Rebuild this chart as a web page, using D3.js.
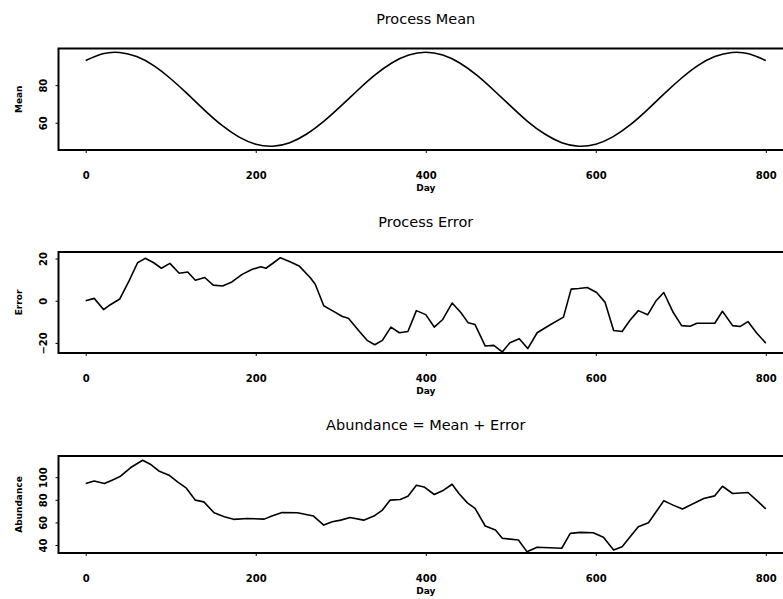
<!DOCTYPE html>
<html>
<head>
<meta charset="utf-8">
<script src="https://cdn.jsdelivr.net/npm/d3@7"></script>
<style>
  body { margin: 0; overflow: hidden; background: #fff; }
  text { font-family: "DejaVu Sans", Arial, sans-serif; }
</style>
</head>
<body>
<script>
// Process mean, read every 20 days
var meanDay = [0, 20, 40, 60, 80, 100, 120, 140, 160, 180, 200, 220, 240, 260, 280, 300, 320, 340, 360, 380,
  400, 420, 440, 460, 480, 500, 520, 540, 560, 580, 600, 620, 640, 660, 680, 700, 720, 740, 760, 780, 800];
var meanValue = [93.1, 96.7, 97.4, 95.2, 90.4, 83.4, 75.2, 66.6, 58.7, 52.5, 48.6, 47.5, 49.4, 54.0, 60.7, 68.8, 77.3, 85.3, 91.8, 96.0,
  97.5, 96.0, 91.8, 85.3, 77.3, 68.8, 60.6, 54.0, 49.4, 47.5, 48.6, 52.5, 58.7, 66.6, 75.2, 83.4, 90.4, 95.2, 97.4, 96.7, 93.1];

// Process error
var errorDay = [0, 10, 21, 29, 40, 51, 61, 70, 80, 89, 99, 110, 120, 129, 140, 150, 161, 172, 184, 196,
  206, 212, 221, 229, 241, 251, 264, 270, 280, 290, 302, 309, 321, 331, 340, 349, 359, 369, 379, 389,
  400, 410, 420, 431, 441, 450, 458, 470, 480, 490, 499, 510, 520, 531, 546, 562, 571, 580, 590, 601,
  611, 621, 631, 640, 650, 661, 671, 680, 691, 701, 711, 719, 740, 749, 761, 770, 779, 789, 800];
var errorValue = [0, 1.1, -4.2, -1.9, 0.8, 9.4, 18, 20.1, 18, 15.4, 17.7, 13, 13.6, 9.7, 11, 7.4, 7, 8.9, 12.5, 14.9,
  16.1, 15.4, 18, 20.4, 18.4, 16.5, 11, 7.8, -2.4, -4.7, -7.5, -8.3, -14.1, -18.8, -20.9, -18.8, -12.5, -15.2, -14.6, -4.7,
  -6.6, -12.5, -8.9, -1.1, -5.5, -10.5, -11.3, -21.5, -21.2, -24.3, -19.9, -18, -22.7, -15.2, -11.5, -7.8, 5.5, 5.8, 6.3, 3.9,
  -0.8, -14.1, -14.6, -9.4, -4.7, -6.7, 0, 3.9, -5.5, -11.8, -12.1, -10.7, -10.7, -5, -11.8, -12.2, -9.9, -15.2, -20.1];

// Abundance
var abundanceDay = [0, 10, 22, 31, 41, 53, 67, 76, 86, 98, 108, 118, 129, 139, 151, 163, 174, 190, 210, 219,
  231, 249, 268, 280, 290, 300, 311, 327, 339, 349, 358, 370, 379, 389, 398, 410, 421, 431, 439, 449,
  458, 470, 482, 490, 509, 519, 531, 560, 570, 582, 597, 609, 621, 631, 640, 650, 662, 671, 680, 691,
  702, 715, 727, 740, 749, 761, 779, 789, 800];
var abundanceValue = [94.4, 96.7, 94.4, 97.4, 100.9, 108.6, 115, 111.5, 105.6, 101.8, 95.9, 90.6, 79.7, 78.2, 68.5, 65, 62.7, 63.5, 62.9, 65.6,
  68.8, 68.5, 65.6, 57.6, 60.5, 62, 64.4, 62, 65.6, 70.9, 79.7, 80.3, 83.2, 92.9, 91.4, 84.7, 88.5, 93.8, 85.6, 77.3,
  72.4, 56.8, 53.2, 45.9, 44.4, 34.1, 38, 37.1, 50.3, 51.2, 50.8, 46.8, 35.6, 38.5, 46.8, 56.1, 59.7, 69.4, 79.1, 75.3,
  71.8, 76.8, 81.2, 83.5, 92, 85.6, 86.5, 79.7, 72];

var dayTicks = [0, 200, 400, 600, 800];
var meanTicks = [60, 80];
var errorTicks = [-20, 0, 20];
var abundanceTicks = [40, 60, 80, 100];

var w = 783;
var h = 599;

var svg = d3.select("body").
append("svg").
attr("width", w).
attr("height", h);

// shared x scale, R style 4% padding on each side
var x = d3.scaleLinear().domain([-32, 832]).range([58.5, 793]);
var mid = (x.range()[0] + x.range()[1]) / 2;

var panels = [
  {title: "Process Mean", ylab: "Mean", days: meanDay, values: meanValue, ticks: meanTicks,
   yDomain: [45.5, 99.5], top: 48.5, bottom: 150, titleY: 23.5, curve: d3.curveNatural},
  {title: "Process Error", ylab: "Error", days: errorDay, values: errorValue, ticks: errorTicks,
   yDomain: [-24.8, 23.1], top: 252, bottom: 353, titleY: 226.5, curve: d3.curveLinear},
  {title: "Abundance = Mean + Error", ylab: "Abundance", days: abundanceDay, values: abundanceValue, ticks: abundanceTicks,
   yDomain: [32.9, 118.8], top: 456, bottom: 553, titleY: 430, curve: d3.curveLinear}
];

panels.forEach(function (p) {
	var y = d3.scaleLinear().domain(p.yDomain).range([p.bottom, p.top]);
	var g = svg.append("g");

	// title
	g.append("text").
	attr("x", mid).
	attr("y", p.titleY).
	attr("text-anchor", "middle").
	style("font-size", "14.5px").
	text(p.title);

	// x axis
	var xAxis = g.append("g").
	attr("transform", "translate(0," + p.bottom + ")").
	call(d3.axisBottom(x).tickValues(dayTicks).tickFormat(d3.format("d")).tickSize(3).tickPadding(18.5));
	xAxis.select(".domain").remove();
	xAxis.selectAll("text").
	style("font-family", "'DejaVu Sans', Arial, sans-serif").
	style("font-size", "10px").
	style("font-weight", "bold");

	g.append("text").
	attr("x", mid).
	attr("y", p.bottom + 40.5).
	attr("text-anchor", "middle").
	style("font-size", "9px").
	style("font-weight", "bold").
	text("Day");

	// y axis, labels turned like R's default las = 0
	var yAxis = g.append("g").
	attr("transform", "translate(" + x.range()[0] + ",0)").
	call(d3.axisLeft(y).tickValues(p.ticks).tickFormat(d3.format("d")).tickSize(3));
	yAxis.select(".domain").remove();
	yAxis.selectAll("text").
	attr("x", null).
	attr("dy", null).
	attr("text-anchor", "middle").
	attr("transform", "translate(-12,0) rotate(-90)").
	style("font-family", "'DejaVu Sans', Arial, sans-serif").
	style("font-size", "10px").
	style("font-weight", "bold");

	g.append("text").
	attr("transform", "translate(21.5," + (p.top + p.bottom) / 2 + ") rotate(-90)").
	attr("text-anchor", "middle").
	style("font-size", "9px").
	style("font-weight", "bold").
	text(p.ylab);

	// series
	var line = d3.line().
	x(function (d) {return x(d[0]);}).
	y(function (d) {return y(d[1]);}).
	curve(p.curve);

	g.append("path").
	datum(d3.zip(p.days, p.values)).
	attr("d", line).
	attr("fill", "none").
	attr("stroke", "#000").
	attr("stroke-width", 1.6).
	attr("stroke-linejoin", "round");

	// plot box
	g.append("rect").
	attr("x", x.range()[0]).
	attr("y", p.top).
	attr("width", x.range()[1] - x.range()[0]).
	attr("height", p.bottom - p.top).
	attr("fill", "none").
	attr("stroke", "#000").
	attr("stroke-width", 2);
});
</script>
</body>
</html>
